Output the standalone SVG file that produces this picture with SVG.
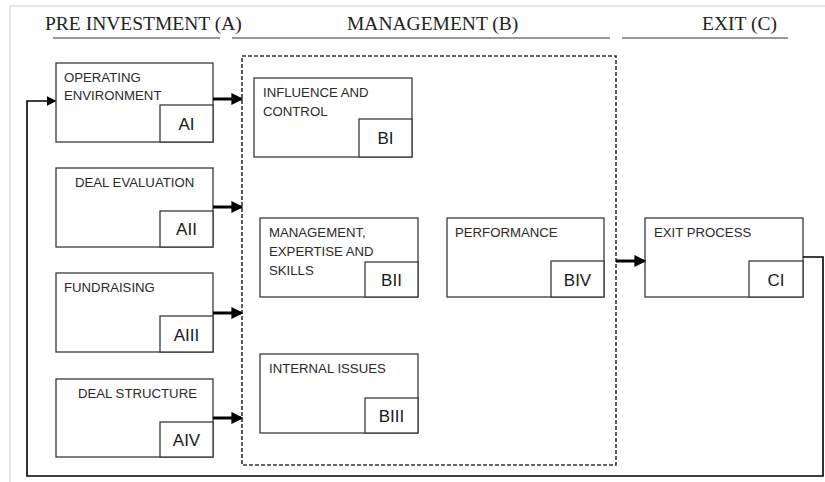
<svg xmlns="http://www.w3.org/2000/svg" width="825" height="482" viewBox="0 0 825 482">
<style>
.bx{fill:#fff;stroke:#3a3a3a;stroke-width:1.3}
.t{font-family:"Liberation Sans",Arial,sans-serif;font-size:13.2px;fill:#2a2a2a}
.c{font-family:"Liberation Sans",Arial,sans-serif;font-size:17px;fill:#1a1a1a;text-anchor:middle}
.h{font-family:"Liberation Serif","Times New Roman",serif;font-size:19.5px;fill:#222}
.ul{stroke:#333;stroke-width:1.2}
.thick{stroke:#000;stroke-width:3;fill:none;marker-end:url(#ah)}
.thin{stroke:#000;stroke-width:1.6;fill:none}
</style>
<defs>
<marker id="ah" markerWidth="4" markerHeight="4" refX="3.2" refY="2" orient="auto" markerUnits="strokeWidth"><path d="M0,0 L4,2 L0,4 z" fill="#000"/></marker>
<marker id="ah2" markerWidth="6" markerHeight="6" refX="5" refY="3" orient="auto" markerUnits="strokeWidth"><path d="M0,0 L6,3 L0,6 z" fill="#000"/></marker>
</defs>
<rect width="825" height="482" fill="#fff"/>
<line x1="10" y1="6" x2="825" y2="6" stroke="#ccc" stroke-width="1"/>
<line x1="10" y1="6" x2="10" y2="482" stroke="#ccc" stroke-width="1"/>
<g id="headers">
<text class="h" x="45" y="30">PRE INVESTMENT (A)</text>
<line class="ul" x1="53" y1="38" x2="220" y2="38"/>
<text class="h" x="347" y="30">MANAGEMENT (B)</text>
<line class="ul" x1="232" y1="38" x2="610" y2="38"/>
<text class="h" x="702" y="30">EXIT (C)</text>
<line class="ul" x1="622" y1="38" x2="788" y2="38"/>
</g>
<g id="management-group">
<rect x="242" y="56" width="374" height="409" fill="none" stroke="#333" stroke-width="1.6" stroke-dasharray="4 2"/>
</g>
<g id="AI">
<rect class="bx" x="56" y="63" width="157" height="79"/>
<rect class="bx" x="160" y="105" width="53" height="37"/>
<text class="t" x="64" y="82">OPERATING</text>
<text class="t" x="64" y="100">ENVIRONMENT</text>
<text class="c" x="186.5" y="130">AI</text>
</g>
<g id="AII">
<rect class="bx" x="56" y="168" width="157" height="79"/>
<rect class="bx" x="160" y="211" width="53" height="36"/>
<text class="t" x="75" y="187">DEAL EVALUATION</text>
<text class="c" x="186.5" y="235">AII</text>
</g>
<g id="AIII">
<rect class="bx" x="56" y="273" width="157" height="79"/>
<rect class="bx" x="160" y="316" width="53" height="36"/>
<text class="t" x="64" y="292">FUNDRAISING</text>
<text class="c" x="186.5" y="341">AIII</text>
</g>
<g id="AIV">
<rect class="bx" x="56" y="379" width="157" height="78"/>
<rect class="bx" x="160" y="422" width="53" height="35"/>
<text class="t" x="78" y="398">DEAL STRUCTURE</text>
<text class="c" x="186.5" y="446">AIV</text>
</g>
<g id="BI">
<rect class="bx" x="254" y="78" width="158" height="79"/>
<rect class="bx" x="359" y="119" width="53" height="38"/>
<text class="t" x="263" y="97">INFLUENCE AND</text>
<text class="t" x="263" y="116">CONTROL</text>
<text class="c" x="385.5" y="144">BI</text>
</g>
<g id="BII">
<rect class="bx" x="260" y="218" width="158" height="79"/>
<rect class="bx" x="365" y="262" width="53" height="35"/>
<text class="t" x="269" y="237">MANAGEMENT,</text>
<text class="t" x="269" y="256">EXPERTISE AND</text>
<text class="t" x="269" y="275">SKILLS</text>
<text class="c" x="391.5" y="286">BII</text>
</g>
<g id="BIII">
<rect class="bx" x="260" y="354" width="158" height="79"/>
<rect class="bx" x="365" y="398" width="53" height="35"/>
<text class="t" x="269" y="373">INTERNAL ISSUES</text>
<text class="c" x="391.5" y="422">BIII</text>
</g>
<g id="BIV">
<rect class="bx" x="447" y="218" width="157" height="79"/>
<rect class="bx" x="551" y="261" width="53" height="36"/>
<text class="t" x="455" y="237">PERFORMANCE</text>
<text class="c" x="577.5" y="286">BIV</text>
</g>
<g id="CI">
<rect class="bx" x="645" y="218" width="158" height="79"/>
<rect class="bx" x="749" y="261" width="54" height="36"/>
<text class="t" x="654" y="237">EXIT PROCESS</text>
<text class="c" x="776" y="286">CI</text>
</g>
<g id="connectors">
<path class="thick" d="M213,99 H241"/>
<path class="thick" d="M213,207 H241"/>
<path class="thick" d="M213,313 H241"/>
<path class="thick" d="M213,418 H241"/>
<path class="thick" d="M616,261 H644"/>
<path class="thin" d="M803,257 H823 V476 H27 V101 H55" marker-end="url(#ah2)"/>
</g>
</svg>
